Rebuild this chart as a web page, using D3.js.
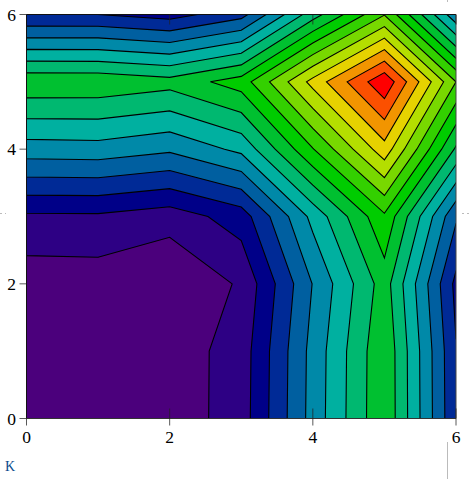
<!DOCTYPE html>
<html>
<head>
<meta charset="utf-8">
<script src="https://cdn.jsdelivr.net/npm/d3@7"></script>
<style>
html,body{margin:0;padding:0;background:#fff;overflow:hidden}
svg{display:block}
text{font-family:"Liberation Serif",serif}
</style>
</head>
<body>
<svg id="c" width="471" height="479"></svg>
<script>
// Grid values, rows from y=0 up to y=6, columns x=0..6
const row0 = [0.30, 0.30, 0.39, 1.51, 5.39, 8.87, 3.10];
const row1 = [0.30, 0.30, 0.42, 1.47, 5.35, 8.85, 3.06];
const row2 = [0.41, 0.45, -0.03, 1.15, 5.04, 8.49, 2.73];
const row3 = [1.82, 1.84, 1.46, 2.47, 6.30, 9.82, 4.15];
const row4 = [5.53, 5.59, 5.18, 6.25, 9.95, 13.60, 7.85];
const row5 = [8.77, 8.75, 8.38, 9.47, 13.34, 16.80, 11.00];
const row6 = [3.02, 3.00, 2.59, 3.64, 7.55, 10.95, 5.28];
const levels = [-1, 1, 2, 3, 4, 5, 6, 7, 8, 9, 10, 11, 12, 13, 14, 15, 16];
const bandColors = ["#4b007c","#2d0084","#000088","#002a96","#005fa0","#0089a8","#00b0a0","#00b870",
  "#00c030","#00cc00","#33d000","#78d800","#b4de00","#e6d200","#f29500","#fb5000","#ff0000"];
const xTicks = [0, 2, 4, 6];
const yTicks = [0, 2, 4, 6];
const cornerLabel = "K";

const x = d3.scaleLinear().domain([0, 6]).range([26.5, 456]);
const y = d3.scaleLinear().domain([0, 6]).range([418.5, 14.5]);
const svg = d3.select("#c");

const grid = [row0, row1, row2, row3, row4, row5, row6].flat();
const contours = d3.contours().size([7, 7]).smooth(true).thresholds(levels)(grid);
const path = d3.geoPath(d3.geoTransform({
  point(px, py) { this.stream.point(x(px - 0.5), y(py - 0.5)); }
}));

svg.append("defs").append("clipPath").attr("id", "plot").append("rect")
  .attr("x", x(0)).attr("y", y(6)).attr("width", x(6) - x(0)).attr("height", y(0) - y(6));

svg.append("g").attr("clip-path", "url(#plot)")
  .selectAll("path").data(contours).join("path")
  .attr("d", path)
  .attr("fill", (d, i) => bandColors[i])
  .attr("stroke", "#000")
  .attr("stroke-width", 1.1)
  .attr("stroke-linejoin", "miter");

// frame
const frame = svg.append("g").attr("fill", "none");
frame.append("line").attr("x1", x(0)).attr("x2", x(6)).attr("y1", y(6)).attr("y2", y(6)).attr("stroke", "#111");
frame.append("line").attr("x1", x(0)).attr("x2", x(6)).attr("y1", y(0)).attr("y2", y(0)).attr("stroke", "#333");
frame.append("line").attr("x1", x(0)).attr("x2", x(0)).attr("y1", y(6)).attr("y2", y(0)).attr("stroke", "#111");
frame.append("line").attr("x1", x(6)).attr("x2", x(6)).attr("y1", y(6)).attr("y2", y(0)).attr("stroke", "#444");

// x ticks: bottom (crossing the frame) and short ones on top
const xt = svg.append("g").attr("stroke", "#222").attr("stroke-opacity", 0.75);
xt.selectAll(".b").data(xTicks).join("line").attr("class", "b")
  .attr("x1", d => x(d)).attr("x2", d => x(d))
  .attr("y1", d => d === 0 ? y(0) : y(0) - 10).attr("y2", y(0) + 7);
xt.selectAll(".t").data(xTicks.filter(d => d > 0)).join("line").attr("class", "t")
  .attr("x1", d => x(d)).attr("x2", d => x(d))
  .attr("y1", y(6)).attr("y2", y(6) + 10);

// y ticks
svg.append("g").attr("stroke", "#222").attr("stroke-opacity", 0.75)
  .selectAll("line").data(yTicks).join("line")
  .attr("x1", x(0) - 7).attr("x2", x(0))
  .attr("y1", d => y(d)).attr("y2", d => y(d));

// labels
svg.append("g").selectAll("text").data(xTicks).join("text")
  .attr("x", d => x(d)).attr("y", 442.5)
  .attr("text-anchor", "middle").attr("font-size", 17.5).attr("fill", "#000").text(d => d);
svg.append("g").selectAll("text").data(yTicks).join("text")
  .attr("x", 16).attr("y", d => y(d) + 6)
  .attr("text-anchor", "end").attr("font-size", 17.5).attr("fill", "#000").text(d => d);
svg.append("text").attr("x", 5).attr("y", 471).attr("font-size", 14).attr("fill", "#0a4a8c").text(cornerLabel);

// faint guide marks around the figure
const guides = svg.append("g").attr("stroke", "#bbb");
guides.append("line").attr("x1", 447.5).attr("x2", 447.5).attr("y1", 442).attr("y2", 479);
guides.append("line").attr("x1", 447.5).attr("x2", 447.5).attr("y1", 0).attr("y2", 2);
guides.append("line").attr("x1", 0).attr("x2", 6).attr("y1", 213.5).attr("y2", 213.5).attr("stroke-dasharray", "2 3");
guides.append("line").attr("x1", 462).attr("x2", 471).attr("y1", 213.5).attr("y2", 213.5).attr("stroke-dasharray", "2 3");
</script>
</body>
</html>
